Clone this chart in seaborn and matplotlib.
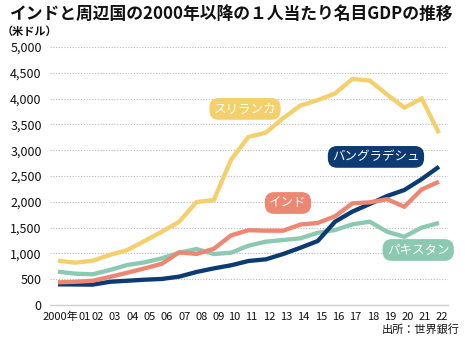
import matplotlib
matplotlib.use("Agg")
import matplotlib.pyplot as plt
import matplotlib.transforms as mtransforms
import seaborn as sns
import pandas as pd

years = list(range(2000, 2023))
xtick_labels = ["2000年"] + [f"{y % 100:02d}" for y in years[1:]]

sri_lanka = [858, 820, 858, 970, 1065, 1240, 1420, 1615, 1996, 2035, 2820, 3256, 3340,
             3620, 3865, 3970, 4100, 4380, 4350, 4080, 3825, 4000, 3330]
bangladesh = [400, 398, 395, 450, 470, 490, 505, 550, 640, 710, 770, 853, 885,
              988, 1110, 1240, 1615, 1810, 1957, 2112, 2229, 2440, 2680]
india = [440, 450, 470, 545, 625, 710, 800, 1020, 990, 1090, 1350, 1450, 1440,
         1440, 1560, 1590, 1720, 1970, 1990, 2050, 1905, 2240, 2390]
pakistan = [646, 607, 595, 678, 775, 827, 905, 1014, 1085, 988, 1014, 1150, 1227,
            1260, 1292, 1400, 1453, 1563, 1615, 1420, 1323, 1500, 1590]

series_names = ["スリランカ", "パキスタン", "バングラデシュ", "インド"]
series_values = [sri_lanka, pakistan, bangladesh, india]
colors = {"スリランカ": "#F4D06C", "パキスタン": "#8CC9B2",
          "バングラデシュ": "#0C3B73", "インド": "#EE8771"}

yticks = [0, 500, 1000, 1500, 2000, 2500, 3000, 3500, 4000, 4500, 5000]

df = pd.DataFrame(
    [(y, v, n) for n, vals in zip(series_names, series_values) for y, v in zip(years, vals)],
    columns=["year", "value", "country"],
)

sns.set_theme(style="white")
plt.rcParams["font.family"] = ["Noto Sans CJK JP", "DejaVu Sans"]

fig = plt.figure(figsize=(4.65, 3.4), dpi=100)
ax = fig.add_axes([50 / 465, 1 - 305 / 340, 398 / 465, 258 / 340])

sns.lineplot(data=df, x="year", y="value", hue="country", hue_order=series_names,
             palette=colors, linewidth=3.1, legend=False, ax=ax, zorder=3)
for line in ax.lines:
    line.set_solid_capstyle("butt")
    line.set_solid_joinstyle("miter")

ax.set_xlim(2000 - 0.46, 2022 + 0.52)
ax.set_ylim(0, 5000)
ax.set_yticks(yticks)
ax.set_yticklabels([f"{v:,}" for v in yticks], fontsize=9, color="#111111")
ax.set_xticks(years)
ax.set_xticklabels(xtick_labels, fontsize=8, color="#111111")
ax.tick_params(axis="both", length=0)
ax.tick_params(axis="y", pad=6)
ax.tick_params(axis="x", pad=5)
ax.set_xlabel("")
ax.set_ylabel("")

for v in yticks[1:]:
    ax.axhline(v, color="#b8b8b8", linewidth=0.8, linestyle=(0, (1, 1.5)), zorder=1)

for side in ["top", "right", "left"]:
    ax.spines[side].set_visible(False)
ax.spines["bottom"].set_color("#cfcfcf")
ax.spines["bottom"].set_linewidth(1.0)

# shift x tick labels slightly right; first label right-aligned
for i, lab in enumerate(ax.get_xticklabels()):
    if i == 0:
        lab.set_ha("right")
        dx = 0.20
    elif i == 1:
        dx = 0.09
    elif i < 10:
        dx = 0.05
    else:
        dx = 0.03
    off = mtransforms.ScaledTranslation(dx, 0, fig.dpi_scale_trans)
    lab.set_transform(lab.get_transform() + off)

# series labels
label_pos = {"スリランカ": (2010.8, 3800), "バングラデシュ": (2018.36, 2870),
             "インド": (2013.28, 1977), "パキスタン": (2020.8, 1066)}
for name, (lx, ly) in label_pos.items():
    ax.text(lx, ly, name, ha="center", va="center", fontsize=9, color="white",
            zorder=5,
            bbox=dict(boxstyle="round,pad=0.35,rounding_size=0.75",
                      facecolor=colors[name], edgecolor="none"))

fig.text(10 / 465, 1 - 14 / 340, "インドと周辺国の2000年以降の１人当たり名目GDPの推移",
         fontsize=12.1, fontweight="bold", ha="left", va="center", color="#111111")
fig.text(2 / 465, 1 - 31 / 340, "（米ドル）", fontsize=8, fontweight="bold",
         ha="left", va="center", color="#111111")
fig.text(460 / 465, 1 - 330 / 340, "出所：世界銀行", fontsize=8, ha="right",
         va="center", color="#111111")

fig.savefig("out.png", dpi=100)
